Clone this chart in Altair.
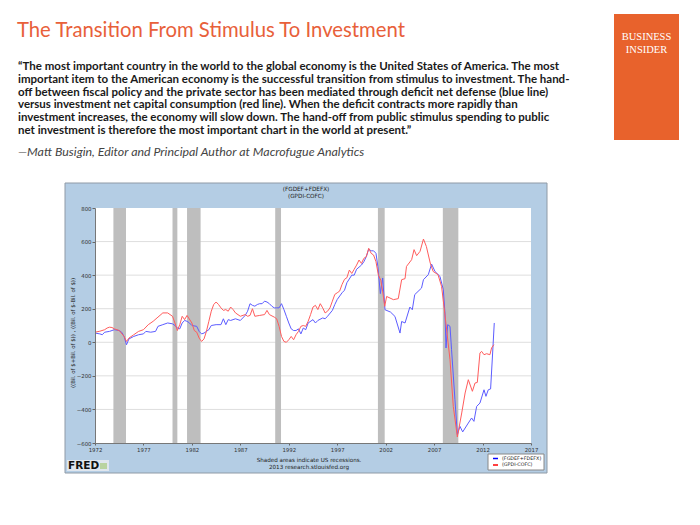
import altair as alt
import pandas as pd

# ---------------- data ----------------
recession_start = [1973.9, 1980.0, 1981.5, 1990.6, 2001.2, 2007.9]
recession_end = [1975.2, 1980.5, 1982.9, 1991.2, 2001.9, 2009.5]

blue_years = [1972.0, 1972.5, 1972.75, 1973.0, 1973.5, 1974.0, 1974.5, 1974.75, 1975.0, 1975.25,
              1975.5, 1976.0, 1976.5, 1977.0, 1977.25, 1977.75, 1978.25, 1978.5, 1979.0, 1979.5,
              1980.0, 1980.25, 1980.5, 1980.75, 1981.0, 1981.25, 1981.5, 1981.75, 1982.0, 1982.5,
              1982.75, 1983.0, 1983.25, 1983.5, 1983.75, 1984.0, 1984.5, 1985.0, 1985.25, 1985.5,
              1985.75, 1986.0, 1986.5, 1987.0, 1987.5, 1987.75, 1988.0, 1988.25, 1988.5, 1988.75,
              1989.0, 1989.25, 1989.5, 1989.75, 1990.0, 1990.25, 1990.5, 1990.75, 1991.0, 1991.25,
              1991.5, 1991.75, 1992.0, 1992.25, 1992.5, 1992.75, 1993.0, 1993.25, 1993.5, 1993.75,
              1994.0, 1994.5, 1994.75, 1995.0, 1995.5, 1995.75, 1996.0, 1996.5, 1996.75, 1997.0,
              1997.5, 1997.75, 1998.0, 1998.5, 1998.75, 1999.0, 1999.5, 1999.75, 2000.0, 2000.25,
              2000.5, 2000.75, 2001.0, 2001.2, 2001.45, 2001.69, 2001.93, 2002.5, 2002.96, 2003.48,
              2003.65, 2004.0, 2004.5, 2004.75, 2005.0, 2005.7, 2005.9, 2006.4, 2006.74, 2007.09,
              2007.6, 2007.95, 2008.12, 2008.23, 2008.4, 2008.64, 2008.8, 2009.15, 2009.4, 2009.67,
              2009.95, 2010.53, 2010.87, 2011.11, 2011.39, 2011.73, 2012.15, 2012.35, 2012.59, 2012.83,
              2013.04, 2013.21]
blue_values = [55, 50, 45, 60, 65, 75, 70, 60, 35, -15,
               20, 35, 45, 50, 65, 60, 65, 95, 105, 115,
               110, 100, 85, 80, 115, 130, 125, 115, 100, 95,
               65, 50, 55, 65, 75, 100, 105, 105, 140, 105,
               135, 130, 140, 130, 160, 185, 230, 220, 215, 225,
               230, 230, 245, 240, 230, 215, 205, 205, 205, 230,
               195, 155, 115, 80, 70, 70, 80, 50, 85, 75,
               115, 135, 115, 130, 145, 140, 155, 190, 225, 255,
               295, 310, 355, 400, 400, 435, 460, 480, 510, 555,
               545, 545, 530, 450, 290, 383, 194, 180, 154, 55,
               124, 115, 210, 194, 284, 323, 373, 403, 466, 422,
               393, 313, 174, -34, 105, 95, -44, -342, -550, -501,
               -534, -481, -451, -471, -382, -362, -283, -322, -283, -278,
               -64, 115]

red_years = [1972.0, 1972.5, 1973.0, 1973.25, 1973.5, 1973.75, 1974.0, 1974.5, 1975.0, 1975.25,
             1975.5, 1976.0, 1976.5, 1977.0, 1977.5, 1978.0, 1978.5, 1979.0, 1979.5, 1980.0,
             1980.25, 1980.5, 1980.75, 1981.0, 1981.25, 1981.5, 1982.0, 1982.25, 1982.5, 1982.75,
             1983.0, 1983.25, 1983.5, 1983.75, 1984.0, 1984.25, 1984.5, 1984.75, 1985.0, 1985.25,
             1985.5, 1985.75, 1986.0, 1986.25, 1986.5, 1987.0, 1987.5, 1987.75, 1988.0, 1988.25,
             1988.5, 1989.0, 1989.5, 1989.75, 1990.0, 1990.5, 1990.75, 1991.0, 1991.25, 1991.5,
             1991.75, 1992.0, 1992.25, 1992.5, 1992.75, 1993.0, 1993.25, 1993.5, 1993.75, 1994.0,
             1994.25, 1994.5, 1994.75, 1995.0, 1995.25, 1995.5, 1995.75, 1996.0, 1996.25, 1996.5,
             1996.75, 1997.0, 1997.25, 1997.5, 1997.75, 1998.0, 1998.25, 1998.5, 1998.75, 1999.0,
             1999.25, 1999.5, 1999.75, 2000.0, 2000.25, 2000.5, 2000.75, 2001.0, 2001.25, 2001.5,
             2001.7, 2001.9, 2002.1, 2002.8, 2003.3, 2003.65, 2004.0, 2004.15, 2004.68, 2004.93,
             2005.2, 2005.55, 2005.9, 2006.2, 2006.6, 2006.9, 2007.4, 2007.77, 2008.1, 2008.64,
             2008.98, 2009.4, 2009.85, 2010.2, 2010.53, 2010.95, 2011.22, 2011.46, 2011.73, 2011.9,
             2012.15, 2012.42, 2012.76, 2012.93, 2013.17]
red_values = [60, 66, 75, 85, 90, 88, 80, 70, 35, 5,
              25, 45, 65, 75, 105, 125, 150, 175, 175, 155,
              115, 70, 105, 155, 135, 160, 115, 70, 60, 25,
              5, 20, 65, 125, 185, 225, 240, 225, 205, 190,
              195, 185, 210, 195, 175, 155, 165, 155, 160, 200,
              155, 160, 165, 190, 165, 150, 140, 95, 35, 5,
              0, 15, 35, 15, 45, 65, 95, 100, 95, 125,
              165, 210, 220, 195, 230, 205, 175, 185, 205, 245,
              285, 295, 305, 345, 375, 385, 430, 410, 435, 460,
              490, 470, 500, 510, 560, 530, 520, 480, 400, 370,
              300, 214, 273, 254, 260, 373, 379, 452, 492, 552,
              516, 542, 615, 571, 472, 422, 403, 333, 174, -104,
              -382, -564, -421, -302, -223, -292, -243, -239, -64, -54,
              -74, -68, -74, -34, -14]

assert len(blue_years) == len(blue_values)
assert len(red_years) == len(red_values)

x_ticks = [1972, 1977, 1982, 1987, 1992, 1997, 2002, 2007, 2012, 2017]
y_ticks = [-600, -400, -200, 0, 200, 400, 600, 800]
grid_values = [-400, -200, 0, 200, 400, 600]

title_text = "The Transition From Stimulus To Investment"
quote_lines = [
    "\u201cThe most important country in the world to the global economy is the United States of America. The most",
    "important item to the American economy is the successful transition from stimulus to investment. The hand-",
    "off between fiscal policy and the private sector has been mediated through deficit net defense (blue line)",
    "versus investment net capital consumption (red line). When the deficit contracts more rapidly than",
    "investment increases, the economy will slow down. The hand-off from public stimulus spending to public",
    "net investment is therefore the most important chart in the world at present.\u201d",
]
attribution = "\u2014Matt Busigin, Editor and Principal Author at Macrofugue Analytics"
fred_title = ["(FGDEF+FDEFX)", "(GPDI-COFC)"]
y_title = "((Bil. of $+Bil. of $)) , ((Bil. of $-Bil. of $))"
note_lines = ["Shaded areas indicate US recessions.", "2013 research.stlouisfed.org"]
legend_labels = ["(FGDEF+FDEFX)", "(GPDI-COFC)"]

# ---------------- layout ----------------
W, H = 436, 235          # plot area
PAD_L, PAD_T = 95, 208   # plot origin in the page
BLUE = "#5c5cff"
RED = "#ff5c5c"
SMALL = "DejaVu Sans"

one = pd.DataFrame({"k": [0]})
xs = alt.Scale(domain=[1972, 2017], nice=False, zero=False)
ys = alt.Scale(domain=[-600, 800], nice=False, zero=False)

x_axis = alt.Axis(values=x_ticks, format="d", title=None, grid=False, labelFontSize=5.4,
                  labelFont=SMALL, labelColor="#333", tickSize=2, tickColor="#666",
                  domainColor="#777", labelPadding=2, labelFlush=False, labelOverlap=False,
                  zindex=1)
y_axis = alt.Axis(values=y_ticks, format="d", title=None, grid=False, labelFontSize=5.4,
                  labelFont=SMALL, labelColor="#333", tickSize=3, tickColor="#666",
                  domainColor="#777", labelPadding=1, labelFlush=False, labelOverlap=False,
                  zindex=1)


def rect(x1, x2, y1, y2, fill, stroke=None, sw=1):
    kw = dict(fill=fill)
    if stroke:
        kw.update(stroke=stroke, strokeWidth=sw)
    return alt.Chart(one).mark_rect(**kw).encode(
        x=alt.value(x1), x2=alt.value(x2), y=alt.value(y1), y2=alt.value(y2))


def txt(text, x, y, size, color="#000", font=SMALL, weight="normal",
        style="normal", align="left", baseline="middle", angle=None, lh=None):
    kw = dict(x=x, y=y, fontSize=size, color=color, font=font, fontWeight=weight,
              fontStyle=style, align=align, baseline=baseline)
    if angle is not None:
        kw["angle"] = angle
    if lh is not None:
        kw["lineHeight"] = lh
    return alt.Chart(one).mark_text(**kw).encode(text=alt.value(text))


# page texts (multi-line blocks: y is the first line)
title = txt(title_text, 17 - PAD_L, 30.5 - PAD_T, 20.3, color="#e8603a", font="Lato", weight="normal")
quote = txt(quote_lines, 18 - PAD_L, 67.3 - PAD_T, 11.5, color="#1a1a1a", font="Lato",
            weight="bold", lh=12.7)
attr = txt(attribution, 18 - PAD_L, 152.3 - PAD_T, 12.4, color="#444", font="Lato", style="italic")

logo_bg = rect(614 - PAD_L, 679 - PAD_L, 14 - PAD_T, 140 - PAD_T, "#e8622c")
logo1 = txt("BUSINESS", 646.5 - PAD_L, 37 - PAD_T, 10.5, color="white", font="Liberation Serif",
            align="center")
logo2 = txt("INSIDER", 646.5 - PAD_L, 50 - PAD_T, 10.5, color="white", font="Liberation Serif",
            align="center")

# FRED panel
panel = rect(65 - PAD_L, 547 - PAD_L, 183 - PAD_T, 473 - PAD_T, "#b4cde4", stroke="#8f9aa6")
plot_bg = rect(0, W, 0, H, "white")
grid = alt.Chart(pd.DataFrame({"v": grid_values})).mark_rule(color="#dedede", strokeWidth=1).encode(
    y=alt.Y("v:Q", scale=ys, axis=y_axis), x=alt.value(0), x2=alt.value(W))
recess = alt.Chart(pd.DataFrame({"s": recession_start, "e": recession_end})).mark_rect(
    color="#bebebe").encode(
    x=alt.X("s:Q", scale=xs, axis=x_axis), x2="e:Q", y=alt.value(0), y2=alt.value(H))

blue_line = alt.Chart(pd.DataFrame({"year": blue_years, "value": blue_values})).mark_line(
    color=BLUE, strokeWidth=1).encode(
    x=alt.X("year:Q", scale=xs, axis=x_axis), y=alt.Y("value:Q", scale=ys, axis=y_axis))
red_line = alt.Chart(pd.DataFrame({"year": red_years, "value": red_values})).mark_line(
    color=RED, strokeWidth=1).encode(
    x=alt.X("year:Q", scale=xs, axis=x_axis), y=alt.Y("value:Q", scale=ys, axis=y_axis))

ftitle = txt(fred_title, 306 - PAD_L, 188.5 - PAD_T, 5.7, color="#222", align="center", lh=7)
ytitle = txt(y_title, 73 - PAD_L, 333 - PAD_T, 5.4, color="#222", align="center", angle=270)
note = txt(note_lines, 309 - PAD_L, 459.5 - PAD_T, 5.6, color="#222", align="center", lh=7)

leg_box = rect(488 - PAD_L, 544 - PAD_L, 454 - PAD_T, 470 - PAD_T, "white", stroke="#888")
leg_b = alt.Chart(one).mark_rule(color="blue", strokeWidth=1.5).encode(
    x=alt.value(493 - PAD_L), x2=alt.value(498 - PAD_L), y=alt.value(458.5 - PAD_T))
leg_r = alt.Chart(one).mark_rule(color="red", strokeWidth=1.5).encode(
    x=alt.value(493 - PAD_L), x2=alt.value(498 - PAD_L), y=alt.value(465 - PAD_T))
leg_t1 = txt(legend_labels[0], 502 - PAD_L, 458.5 - PAD_T, 4.8, color="#222")
leg_t2 = txt(legend_labels[1], 502 - PAD_L, 465 - PAD_T, 4.8, color="#222")

fred_bg = rect(67 - PAD_L, 109 - PAD_L, 460 - PAD_T, 471 - PAD_T, "#dfe6ee")
fred_txt = txt("FRED", 68 - PAD_L, 466 - PAD_T, 10.5, color="#111", weight="bold")
fred_icon = rect(100 - PAD_L, 107 - PAD_L, 463 - PAD_T, 469 - PAD_T, "#b9d3a0")

chart = alt.layer(
    panel, plot_bg, grid, recess, blue_line, red_line,
    title, quote, attr, logo_bg, logo1, logo2,
    ftitle, ytitle, note, leg_box, leg_b, leg_r, leg_t1, leg_t2,
    fred_bg, fred_txt, fred_icon,
).properties(
    width=W, height=H,
    padding={"left": PAD_L, "top": PAD_T, "right": 700 - PAD_L - W, "bottom": 525 - PAD_T - H},
    autosize=alt.AutoSizeParams(type="none"),
    background="white",
).configure_view(stroke=None)

chart.save("out.html", embed_options={"renderer": "svg", "actions": False})
